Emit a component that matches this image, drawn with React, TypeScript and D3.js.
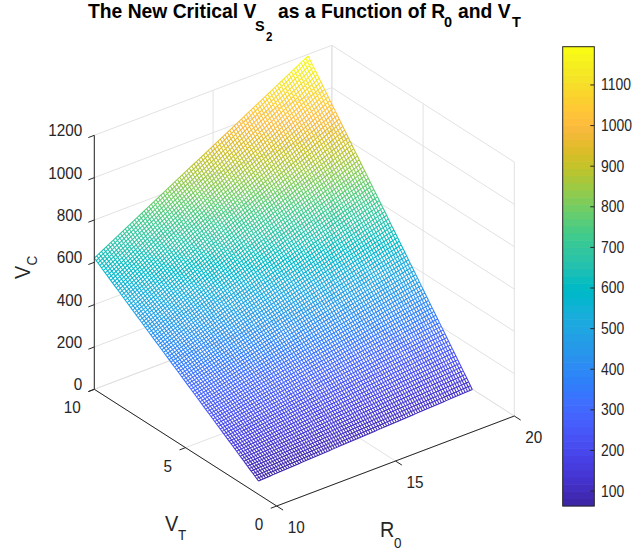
import { useEffect, useRef } from "react";
import * as d3 from "d3";

// values
const rKnots = [10, 13, 16, 19];
const vKnots = [1, 4, 7, 10];
const zKnots = [
  [63, 80, 96, 113],
  [249, 324, 398, 473],
  [434, 567, 699, 832],
  [620, 811, 1001, 1192],
];
const meshCells = 90; // mesh density

const rTicks = [10, 15, 20];
const vTicks = [0, 5, 10];
const zTicks = [0, 200, 400, 600, 800, 1000, 1200];
const barTicks = [100, 200, 300, 400, 500, 600, 700, 800, 900, 1000, 1100];
const barRange = [62, 1193];

// parula, 64 rows
const parulaRows = [
  [.2422, .1504, .6603], [.2504, .165, .7076], [.2578, .1818, .7511], [.2647, .1978, .7952],
  [.2706, .2147, .8364], [.2751, .2342, .871], [.2783, .2559, .8991], [.2803, .2782, .9221],
  [.2813, .3006, .9414], [.281, .3228, .9579], [.2795, .3447, .9717], [.276, .3667, .9829],
  [.2699, .3892, .9906], [.2602, .4123, .9952], [.244, .4358, .9988], [.2206, .4603, .9973],
  [.1963, .4847, .9892], [.1834, .5074, .9798], [.1786, .5289, .9682], [.1764, .5499, .952],
  [.1687, .5703, .9359], [.154, .5902, .9218], [.146, .6091, .9079], [.138, .6276, .8973],
  [.1248, .6459, .8883], [.1113, .6635, .8763], [.0952, .6798, .8598], [.0689, .6948, .8394],
  [.0297, .7082, .8163], [.0036, .7203, .7917], [.0067, .7312, .766], [.0433, .7411, .7394],
  [.0964, .75, .712], [.1408, .7584, .6842], [.1717, .767, .6554], [.1938, .7758, .6251],
  [.2161, .7843, .5923], [.247, .7918, .5567], [.2906, .7973, .5188], [.3406, .8008, .4789],
  [.3909, .8029, .4354], [.4456, .8024, .3909], [.5044, .7993, .348], [.5616, .7942, .3045],
  [.6174, .7876, .2612], [.672, .7793, .2227], [.7242, .7698, .191], [.7738, .7598, .1646],
  [.8203, .7498, .1535], [.8634, .7406, .1596], [.9035, .733, .1774], [.9393, .7288, .21],
  [.9728, .7298, .2394], [.9956, .7434, .2371], [.997, .7659, .2199], [.9952, .7893, .2028],
  [.9892, .8136, .1885], [.9786, .8386, .1766], [.9676, .8639, .1643], [.961, .889, .1537],
  [.9597, .9135, .1423], [.9628, .9373, .1265], [.9691, .9606, .1064], [.9769, .9839, .0805],
];

const ink = "#262626";
const gridColor = "#e2e2e2";
const font = "'Liberation Sans', sans-serif";

// orthographic view of the box, one scale per screen component
const origin = { x: 276.7, y: 506 };
const rx = d3.scaleLinear().domain([10, 20]).range([0, 237.6]);
const ry = d3.scaleLinear().domain([10, 20]).range([0, -90]);
const vx = d3.scaleLinear().domain([0, 10]).range([0, -182.4]);
const vy = d3.scaleLinear().domain([0, 10]).range([0, -116.7]);
const zy = d3.scaleLinear().domain([0, 1200]).range([0, -254]);

const project = (r: number, v: number, z: number): [number, number] => [
  origin.x + rx(r) + vx(v),
  origin.y + ry(r) + vy(v) + zy(z),
];

// mesh nodes between the read knots are bilinear fill, not read one by one
function heightAt(r: number, v: number) {
  const i = Math.min(d3.bisectRight(rKnots, r) - 1, rKnots.length - 2);
  const j = Math.min(d3.bisectRight(vKnots, v) - 1, vKnots.length - 2);
  const t = (r - rKnots[i]) / (rKnots[i + 1] - rKnots[i]);
  const u = (v - vKnots[j]) / (vKnots[j + 1] - vKnots[j]);
  const low = d3.interpolateNumber(zKnots[j][i], zKnots[j][i + 1])(t);
  const high = d3.interpolateNumber(zKnots[j + 1][i], zKnots[j + 1][i + 1])(t);
  return d3.interpolateNumber(low, high)(u);
}

export default function App() {
  const svgRef = useRef<SVGSVGElement>(null);

  useEffect(() => {
    if (!svgRef.current) return;
    const svg = d3.select(svgRef.current);
    svg.selectAll("*").remove();

    const bands = parulaRows.map(([r, g, b]) => d3.rgb(r * 255, g * 255, b * 255).formatHex());
    const bandCount = bands.length;
    const bandOf = d3.scaleQuantize<number>().domain(barRange).range(d3.range(bandCount));

    const seg = (p: [number, number], q: [number, number]) =>
      `M${p[0].toFixed(2)},${p[1].toFixed(2)}L${q[0].toFixed(2)},${q[1].toFixed(2)}`;

    // Background grid
    const grid = svg.append("g").attr("fill", "none").attr("stroke", gridColor).attr("stroke-width", 1);
    const gridLines = [
      ...rTicks.map((r) => seg(project(r, 0, 0), project(r, 10, 0))),
      ...vTicks.map((v) => seg(project(10, v, 0), project(20, v, 0))),
      ...rTicks.map((r) => seg(project(r, 10, 0), project(r, 10, 1200))),
      ...vTicks.map((v) => seg(project(20, v, 0), project(20, v, 1200))),
      ...zTicks.map((z) => seg(project(10, 10, z), project(20, 10, z))),
      ...zTicks.map((z) => seg(project(20, 10, z), project(20, 0, z))),
    ];
    grid.selectAll("path").data(gridLines).enter().append("path").attr("d", (d) => d);

    // Mesh, one path per colour band
    const rs = d3.quantize(d3.interpolateNumber(rKnots[0], rKnots[3]), meshCells + 1);
    const vs = d3.quantize(d3.interpolateNumber(vKnots[0], vKnots[3]), meshCells + 1);
    const paths: string[] = bands.map(() => "");
    const addSeg = (r0: number, v0: number, r1: number, v1: number) => {
      const z0 = heightAt(r0, v0);
      const z1 = heightAt(r1, v1);
      paths[bandOf((z0 + z1) / 2)] += seg(project(r0, v0, z0), project(r1, v1, z1));
    };
    rs.forEach((r, i) =>
      vs.forEach((v, j) => {
        if (i < meshCells) addSeg(r, v, rs[i + 1], v);
        if (j < meshCells) addSeg(r, v, r, vs[j + 1]);
      })
    );
    svg
      .append("g")
      .attr("fill", "none")
      .attr("stroke-width", 1.05)
      .selectAll("path")
      .data(paths)
      .enter()
      .append("path")
      .attr("d", (d) => d)
      .attr("stroke", (_, i) => bands[i]);

    // Axis lines and ticks
    const axes = svg.append("g").attr("fill", "none").attr("stroke", ink).attr("stroke-width", 1);
    const tickR = 10 - 0.25;
    const axisPaths = [
      seg(project(10, 10, 0), project(10, 10, 1200)),
      seg(project(10, 10, 0), project(10, 0, 0)),
      seg(project(10, 0, 0), project(20, 0, 0)),
      ...zTicks.map((z) => seg(project(10, 10, z), project(tickR, 10, z))),
      ...vTicks.map((v) => seg(project(10, v, 0), project(tickR, v, 0))),
      ...rTicks.map((r) => seg(project(r, 0, 0), project(r, -0.35, 0))),
    ];
    axes.selectAll("path").data(axisPaths).enter().append("path").attr("d", (d) => d);

    // text comes out narrow in the reference, so squeeze it horizontally
    const label = (
      x: number,
      y: number,
      text: string,
      anchor: string,
      size: number,
      squeeze = 0.9,
      weight = "normal",
      fill = ink
    ) =>
      svg
        .append("text")
        .attr("transform", `translate(${x},${y}) scale(${squeeze},1)`)
        .attr("text-anchor", anchor)
        .attr("font-family", font)
        .attr("font-size", size)
        .attr("font-weight", weight)
        .attr("fill", fill)
        .text(text);

    zTicks.forEach((z) => {
      const [x, y] = project(10, 10, z);
      label(x - 12, y + 1, String(z), "end", 17);
    });
    vTicks.forEach((v) => {
      const [x, y] = project(10, v, 0);
      label(x - 13.5, y + 24, String(v), "end", 17);
    });
    rTicks.forEach((r) => {
      const [x, y] = project(r, 0, 0);
      label(x + 11, y + 27, String(r), "start", 17);
    });

    // Axis titles
    label(165, 531, "V", "start", 22);
    label(178, 540, "T", "start", 15);
    label(380, 537, "R", "start", 22);
    label(394, 548, "0", "start", 15);
    const vc = svg.append("g").attr("transform", "translate(30,279) rotate(-90) scale(0.9,1)");
    vc.append("text").attr("font-family", font).attr("font-size", 22).attr("fill", ink).text("V");
    vc.append("text").attr("x", 15).attr("y", 7).attr("font-family", font).attr("font-size", 15).attr("fill", ink).text("C");

    // Title
    const titleSqueeze = 0.965;
    label(88, 18, "The New Critical V", "start", 20, titleSqueeze, "bold", "#000");
    label(255, 31, "S", "start", 15, titleSqueeze, "bold", "#000");
    label(266, 41, "2", "start", 12, titleSqueeze, "bold", "#000");
    label(278, 18, "as a Function of R", "start", 20, titleSqueeze, "bold", "#000");
    label(444, 27, "0", "start", 15, titleSqueeze, "bold", "#000");
    label(458, 18, "and V", "start", 20, titleSqueeze, "bold", "#000");
    label(512, 27, "T", "start", 15, titleSqueeze, "bold", "#000");

    // Colorbar
    const barBox = { left: 562.7, right: 594.3, top: 46.7, bottom: 506 };
    const barY = d3.scaleLinear().domain(barRange).range([barBox.bottom, barBox.top]);
    const step = (barRange[1] - barRange[0]) / bandCount;
    svg
      .append("g")
      .selectAll("rect")
      .data(bands)
      .enter()
      .append("rect")
      .attr("x", barBox.left)
      .attr("width", barBox.right - barBox.left)
      .attr("y", (_, i) => barY(barRange[0] + (i + 1) * step) - 0.3)
      .attr("height", barY(barRange[0]) - barY(barRange[0] + step) + 0.6)
      .attr("fill", (d) => d);

    const barSqueeze = 0.82;
    const barAxis = svg
      .append("g")
      .attr("transform", `translate(${barBox.right},0)`)
      .call(
        d3
          .axisRight(barY)
          .tickValues(barTicks)
          .tickSize(-4)
          .tickFormat((d) => String(d))
      );
    barAxis.select(".domain").remove();
    barAxis.selectAll(".tick line").attr("stroke", ink);
    barAxis
      .selectAll(".tick text")
      .attr("x", 6.7 / barSqueeze)
      .attr("transform", `scale(${barSqueeze},1)`)
      .attr("font-family", font)
      .attr("font-size", 17)
      .attr("fill", ink);
    svg
      .append("rect")
      .attr("x", barBox.left)
      .attr("y", barBox.top)
      .attr("width", barBox.right - barBox.left)
      .attr("height", barBox.bottom - barBox.top)
      .attr("fill", "none")
      .attr("stroke", ink)
      .attr("stroke-width", 1);
  }, []);

  return (
    <svg
      ref={svgRef}
      width={634}
      height={554}
      style={{ position: "absolute", left: 0, top: 0, background: "#fff" }}
    />
  );
}
